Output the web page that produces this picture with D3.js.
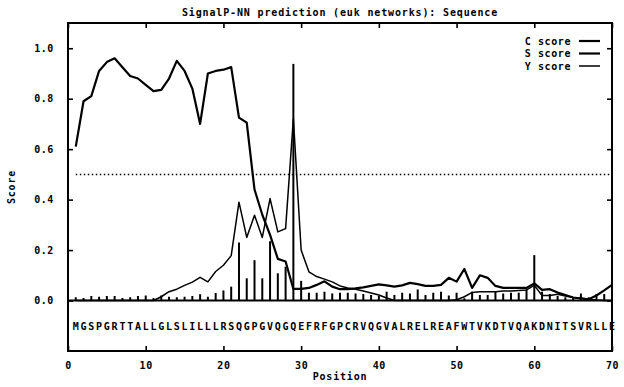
<!DOCTYPE html>
<html>
<head>
<meta charset="utf-8">
<script src="https://cdn.jsdelivr.net/npm/d3@7"></script>
<style>
  html, body { margin: 0; padding: 0; background: #fff; }
  svg { display: block; }
  text { font-family: "DejaVu Sans Mono", monospace; font-weight: bold; fill: #000; }
</style>
</head>
<body>
<svg id="chart" width="624" height="387"></svg>
<script>
// ---- data (positions 1..70) ----
const titleText = "SignalP-NN prediction (euk networks): Sequence";
const xLabel = "Position";
const yLabel = "Score";
const sequence = "MGSPGRTTALLGLSLILLLRSQGPGVQGQEFRFGPCRVQGVALRELREAFWTVKDTVQAKDNITSVRLLE";
const xTicks = [0, 10, 20, 30, 40, 50, 60, 70];
const yTicks = [0, 0.2, 0.4, 0.6, 0.8, 1.0];
const threshold = 0.5;
const legendNames = ["C score", "S score", "Y score"];

const cScore = [
  0.013, 0.010, 0.018, 0.015, 0.018, 0.018, 0.010, 0.013, 0.018, 0.020,
  0.010, 0.020, 0.015, 0.013, 0.015, 0.018, 0.025, 0.015, 0.030, 0.040,
  0.055, 0.230, 0.088, 0.160, 0.088, 0.235, 0.108, 0.134, 0.938, 0.078,
  0.031, 0.031, 0.035, 0.028, 0.031, 0.031, 0.028, 0.026, 0.022, 0.018,
  0.035, 0.022, 0.031, 0.028, 0.044, 0.022, 0.031, 0.035, 0.020, 0.031,
  0.009, 0.035, 0.022, 0.022, 0.035, 0.028, 0.031, 0.031, 0.044, 0.180,
  0.035, 0.026, 0.018, 0.013, 0.013, 0.028, 0.013, 0.026, 0.026, 0.035
];
const sScore = [
  0.610, 0.790, 0.810, 0.910, 0.945, 0.960, 0.925, 0.890, 0.880, 0.855,
  0.830, 0.835, 0.880, 0.950, 0.910, 0.840, 0.700, 0.900, 0.910, 0.915,
  0.925, 0.725, 0.705, 0.440, 0.340, 0.260, 0.165, 0.155, 0.046, 0.046,
  0.050, 0.062, 0.076, 0.055, 0.045, 0.045, 0.048, 0.052, 0.058, 0.064,
  0.060, 0.055, 0.060, 0.070, 0.065, 0.058, 0.058, 0.062, 0.090, 0.075,
  0.125, 0.050, 0.100, 0.090, 0.058, 0.050, 0.050, 0.050, 0.050, 0.068,
  0.042, 0.045, 0.032, 0.022, 0.012, 0.008, 0.005, 0.020, 0.040, 0.062
];
const yScore = [
  0.000, 0.000, 0.000, 0.000, 0.000, 0.000, 0.000, 0.000, 0.000, 0.000,
  0.000, 0.015, 0.035, 0.045, 0.060, 0.073, 0.092, 0.074, 0.115, 0.140,
  0.178, 0.390, 0.250, 0.338, 0.250, 0.404, 0.272, 0.285, 0.720, 0.200,
  0.114, 0.095, 0.085, 0.074, 0.058, 0.050, 0.045, 0.038, 0.030, 0.022,
  0.010, 0.000, 0.000, 0.000, 0.000, 0.000, 0.000, 0.000, 0.000, 0.003,
  0.015, 0.032, 0.035, 0.035, 0.035, 0.038, 0.038, 0.040, 0.042, 0.060,
  0.020, 0.020, 0.025, 0.018, 0.012, 0.010, 0.005, 0.002, 0.000, 0.000
];

// ---- layout ----
const svg = d3.select("#chart");
svg.append("rect").attr("width", 624).attr("height", 387).attr("fill", "#fff");

const L = 68, R = 612, T = 23, B = 351;
const x = d3.scaleLinear().domain([0, 70]).range([L, R]);
const y = d3.scaleLinear().domain([-0.2, 1.1]).range([B, T]);
const pos = d3.range(1, sequence.length + 1);

// axes (ticks pointing inward)
const fmtY = d3.format(".1f");
const axL = svg.append("g").attr("transform", `translate(${L},0)`)
  .call(d3.axisLeft(y).tickValues(yTicks).tickSize(-5).tickPadding(14).tickFormat(fmtY));
const axR = svg.append("g").attr("transform", `translate(${R},0)`)
  .call(d3.axisRight(y).tickValues(yTicks).tickSize(-5).tickFormat(""));
const axB = svg.append("g").attr("transform", `translate(0,${B})`)
  .call(d3.axisBottom(x).tickValues(xTicks).tickSize(-5).tickPadding(11).tickFormat(d3.format("d")));
const axT = svg.append("g").attr("transform", `translate(0,${T})`)
  .call(d3.axisTop(x).tickValues(xTicks).tickSize(-5).tickFormat(""));
[axL, axR, axB, axT].forEach(g => {
  g.select(".domain").remove();
  g.selectAll(".tick line").attr("stroke", "#000").attr("stroke-width", 1.6);
  g.selectAll("text").attr("font-size", 10).attr("font-family", "DejaVu Sans Mono")
    .attr("font-weight", "bold").attr("fill", "#000").style("letter-spacing", "0.6px");
});

// frame
svg.append("rect").attr("x", L).attr("y", T).attr("width", R - L).attr("height", B - T)
  .attr("fill", "none").attr("stroke", "#000").attr("stroke-width", 2);

// zero line
svg.append("line").attr("x1", L).attr("x2", R).attr("y1", y(0)).attr("y2", y(0))
  .attr("stroke", "#000").attr("stroke-width", 2);

// threshold dotted line
svg.append("line").attr("x1", x(1)).attr("x2", x(70)).attr("y1", y(threshold)).attr("y2", y(threshold))
  .attr("stroke", "#000").attr("stroke-width", 1.5).attr("stroke-dasharray", "1.5,2.5");

// C score impulses
svg.append("g").selectAll("line").data(cScore).join("line")
  .attr("x1", (d, i) => x(pos[i])).attr("x2", (d, i) => x(pos[i]))
  .attr("y1", y(0)).attr("y2", d => y(d))
  .attr("stroke", "#000").attr("stroke-width", 2);

// S score line
svg.append("path").datum(sScore)
  .attr("d", d3.line().x((d, i) => x(pos[i])).y(d => y(d)))
  .attr("fill", "none").attr("stroke", "#000").attr("stroke-width", 2.2).attr("stroke-linejoin", "round");

// Y score line
svg.append("path").datum(yScore)
  .attr("d", d3.line().x((d, i) => x(pos[i])).y(d => y(d)))
  .attr("fill", "none").attr("stroke", "#000").attr("stroke-width", 1.5).attr("stroke-linejoin", "round");

// sequence letters
svg.append("g").selectAll("text").data(sequence.split("")).join("text")
  .attr("x", (d, i) => x(pos[i])).attr("y", 326).attr("dy", "0.35em")
  .attr("text-anchor", "middle").attr("font-size", 10).text(d => d);

// title and axis labels
svg.append("text").attr("x", (L + R) / 2).attr("y", 12).attr("dy", "0.35em")
  .attr("text-anchor", "middle").attr("font-size", 10).style("letter-spacing", "0.85px").text(titleText);
svg.append("text").attr("x", (L + R) / 2).attr("y", 376).attr("dy", "0.35em")
  .attr("text-anchor", "middle").attr("font-size", 10).style("letter-spacing", "0.8px").text(xLabel);
svg.append("text").attr("transform", `translate(11,${(T + B) / 2}) rotate(-90)`).attr("dy", "0.35em")
  .attr("text-anchor", "middle").attr("font-size", 10).style("letter-spacing", "0.8px").text(yLabel);

// legend
const legendW = [2.2, 2.2, 1.5];
const leg = svg.append("g").selectAll("g").data(legendNames).join("g")
  .attr("transform", (d, i) => `translate(0,${41 + i * 12.5})`);
leg.append("text").attr("x", 571).attr("dy", "0.35em").attr("text-anchor", "end")
  .attr("font-size", 10).style("letter-spacing", "0.6px").text(d => d);
leg.append("line").attr("x1", 579).attr("x2", 600).attr("y1", 0).attr("y2", 0)
  .attr("stroke", "#000").attr("stroke-width", (d, i) => legendW[i]);
</script>
</body>
</html>
